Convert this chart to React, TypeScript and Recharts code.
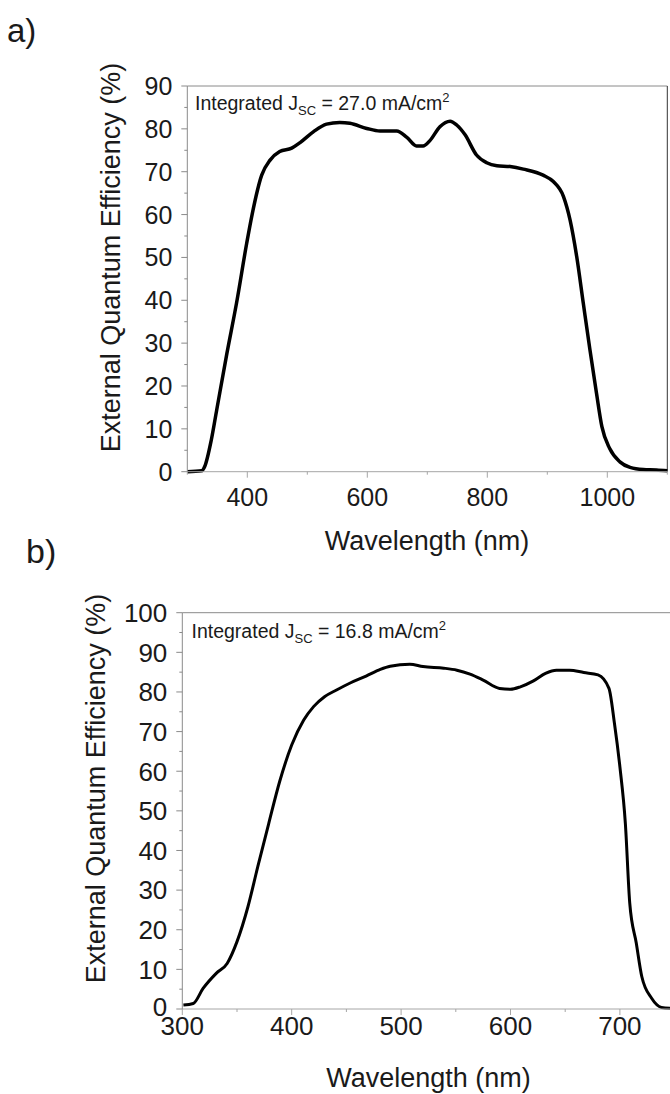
import { Label, Line, LineChart, ReferenceLine, XAxis, YAxis } from 'recharts';

// panel a) – wavelength (nm) and EQE (%)
const wavelengthA = [
  300, 324, 329, 340, 349, 366, 382, 399, 408, 424, 438, 454, 474, 488, 510, 532, 554, 571, 599, 621,
  649, 666, 682, 693, 704, 721, 738, 749, 763, 782, 799, 816, 838, 860, 893, 910, 927, 938, 949, 960,
  971, 982, 991, 1004, 1021, 1038, 1060, 1082, 1100,
];
const eqeA = [
  0, 0.2, 1.2, 7.4, 14.4, 27.6, 39.3, 53.3, 60, 69.2, 72.7, 74.7, 75.5, 76.8, 79.3, 81.1, 81.5, 81.3, 80.1, 79.5,
  79.5, 78, 76, 76, 77.2, 80.5, 81.8, 80.9, 78.6, 73.9, 72.1, 71.4, 71.2, 70.6, 69.2, 67.7, 64.2, 58.7, 50.2, 39.3,
  28.5, 18.3, 10.5, 5.4, 2.3, 1.0, 0.5, 0.4, 0.2,
];
const xMajorA = [400, 600, 800, 1000];
const xMinorA = [300, 500, 700, 900, 1100];
const yMajorA = [0, 10, 20, 30, 40, 50, 60, 70, 80, 90];
const yMinorA = [5, 15, 25, 35, 45, 55, 65, 75, 85];

// panel b)
const wavelengthB = [
  301, 310, 319, 331, 341, 350, 360, 369, 379, 389, 400, 411, 420, 430, 441, 453, 468, 481, 490, 508,
  520, 539, 551, 563, 575, 590, 600, 609, 621, 632, 642, 654, 667, 680, 690, 695, 700, 705, 709, 715,
  720, 729, 738, 746,
];
const eqeB = [
  1.0, 1.4, 5.2, 9.0, 11.5, 17, 25.8, 35.9, 46.8, 57.4, 66.6, 72.9, 76.3, 78.8, 80.5, 82.2, 84, 85.7, 86.5, 87,
  86.4, 86, 85.5, 84.5, 83, 80.9, 80.7, 81.3, 82.8, 84.7, 85.5, 85.5, 84.9, 84.3, 80.9, 72.1, 61.1, 46.8, 26.7, 16.6,
  8.2, 2.7, 0.4, 0.2,
];
const xMajorB = [300, 400, 500, 600, 700];
const xMinorB = [350, 450, 550, 650, 750];
const yMajorB = [0, 10, 20, 30, 40, 50, 60, 70, 80, 90, 100];
const yMinorB = [5, 15, 25, 35, 45, 55, 65, 75, 85, 95];

const FONT = '"Liberation Sans", Arial, sans-serif';
const TEXT = '#1a1a1a';
const AXIS_X = '#a6a6a6';
const AXIS_Y = '#8a8a8a';
const Y_TITLE = 'External Quantum Efficiency (%)';

const XTick = ({ x, y, payload, majors, labelDy, fontSize }: any) => {
  const major = majors.includes(payload.value);
  return (
    <g>
      <line x1={x} x2={x} y1={y} y2={y + (major ? 6 : 3)} stroke={AXIS_X} />
      {major && (
        <text x={x} y={y + labelDy} textAnchor="middle" fontSize={fontSize} fontFamily={FONT} fill={TEXT}>
          {payload.value}
        </text>
      )}
    </g>
  );
};

const YTick = ({ x, y, payload, majors, fontSize, labelDy = 0 }: any) => {
  const major = majors.includes(payload.value);
  return (
    <g>
      <line x1={x - (major ? 6 : 3)} x2={x} y1={y} y2={y} stroke={AXIS_Y} />
      {major && (
        <text
          x={x - 15}
          y={y - (payload.value === 0 ? labelDy : 0)}
          dy="0.36em"
          textAnchor="end"
          fontSize={fontSize}
          fontFamily={FONT}
          fill={TEXT}
        >
          {payload.value}
        </text>
      )}
    </g>
  );
};

const yTitle = (bx: number, cy: number) => () => (
  <text
    x={bx}
    y={cy}
    transform={`rotate(-90 ${bx} ${cy})`}
    textAnchor="middle"
    fontSize={27}
    fontFamily={FONT}
    fill={TEXT}
  >
    {Y_TITLE}
  </text>
);

const xTitle = (cx: number, by: number) => () => (
  <text x={cx} y={by} textAnchor="middle" fontSize={27} fontFamily={FONT} fill={TEXT}>
    Wavelength (nm)
  </text>
);

const Annotation = ({ x, y, value }: { x: number; y: number; value: string }) => (
  <text x={x} y={y} fontSize={19.5} fontFamily={FONT} fill={TEXT}>
    Integrated J
    <tspan fontSize={13} dy={5}>SC</tspan>
    <tspan dy={-5}>{` = ${value} mA/cm`}</tspan>
    <tspan fontSize={13} dy={-8}>2</tspan>
  </text>
);

export default function App() {
  const dataA = wavelengthA.map((w, i) => ({ w, eqe: eqeA[i] }));
  const dataB = wavelengthB.map((w, i) => ({ w, eqe: eqeB[i] }));

  return (
    <div
      style={{ position: 'absolute', left: 0, top: 0, width: 670, height: 1094, overflow: 'hidden', background: '#fff' }}
    >
      <div style={{ position: 'absolute', left: 0, top: 0 }}>
        <LineChart width={670} height={560} data={dataA} margin={{ top: 86, right: 2.7, bottom: 0, left: 0 }}>
          <XAxis
            dataKey="w"
            type="number"
            domain={[300, 1100]}
            ticks={[...xMajorA, ...xMinorA].sort((a, b) => a - b)}
            interval={0}
            height={88.3}
            tickSize={0}
            tickMargin={0}
            tickLine={false}
            axisLine={{ stroke: AXIS_X }}
            tick={(p: any) => <XTick {...p} majors={xMajorA} labelDy={34} fontSize={25} />}
          >
            <Label content={xTitle(427, 550)} />
          </XAxis>
          <YAxis
            type="number"
            domain={[0, 90]}
            ticks={[...yMajorA, ...yMinorA].sort((a, b) => a - b)}
            interval={0}
            width={187.3}
            tickSize={0}
            tickMargin={0}
            tickLine={false}
            axisLine={{ stroke: AXIS_Y }}
            tick={(p: any) => <YTick {...p} majors={yMajorA} fontSize={25} />}
          >
            <Label content={yTitle(120, 257.5)} />
          </YAxis>
          <ReferenceLine y={90} stroke={AXIS_Y} />
          <ReferenceLine x={1100} stroke="#333" />
          <Line dataKey="eqe" type="monotone" stroke="#000" strokeWidth={3.5} dot={false} isAnimationActive={false} />
        </LineChart>
      </div>

      <div style={{ position: 'absolute', left: 0, top: 560 }}>
        <LineChart width={680} height={534} data={dataB} margin={{ top: 52.7, right: 5.4, bottom: 0, left: 0 }}>
          <XAxis
            dataKey="w"
            type="number"
            domain={[300, 750]}
            ticks={[...xMajorB, ...xMinorB].sort((a, b) => a - b)}
            interval={0}
            height={85}
            tickSize={0}
            tickMargin={0}
            tickLine={false}
            axisLine={{ stroke: AXIS_X }}
            tick={(p: any) => <XTick {...p} majors={xMajorB} labelDy={25.5} fontSize={26} />}
          >
            <Label content={xTitle(428.5, 527)} />
          </XAxis>
          <YAxis
            type="number"
            domain={[0, 100]}
            ticks={[...yMajorB, ...yMinorB].sort((a, b) => a - b)}
            interval={0}
            width={182.3}
            tickSize={0}
            tickMargin={0}
            tickLine={false}
            axisLine={{ stroke: AXIS_Y }}
            tick={(p: any) => <YTick {...p} majors={yMajorB} fontSize={26} labelDy={2} />}
          >
            <Label content={yTitle(105, 228.5)} />
          </YAxis>
          <ReferenceLine y={100} stroke={AXIS_Y} />
          <ReferenceLine x={750} stroke="#333" />
          <Line dataKey="eqe" type="monotone" stroke="#000" strokeWidth={3} dot={false} isAnimationActive={false} />
        </LineChart>
      </div>

      <svg width={670} height={1094} style={{ position: 'absolute', left: 0, top: 0, pointerEvents: 'none' }}>
        <text x={7} y={42} fontSize={33} fontFamily={FONT} fill={TEXT}>a)</text>
        <text x={26} y={563} fontSize={34} fontFamily={FONT} fill={TEXT}>b)</text>
        <Annotation x={195} y={110} value="27.0" />
        <Annotation x={191.5} y={638} value="16.8" />
      </svg>
    </div>
  );
}
